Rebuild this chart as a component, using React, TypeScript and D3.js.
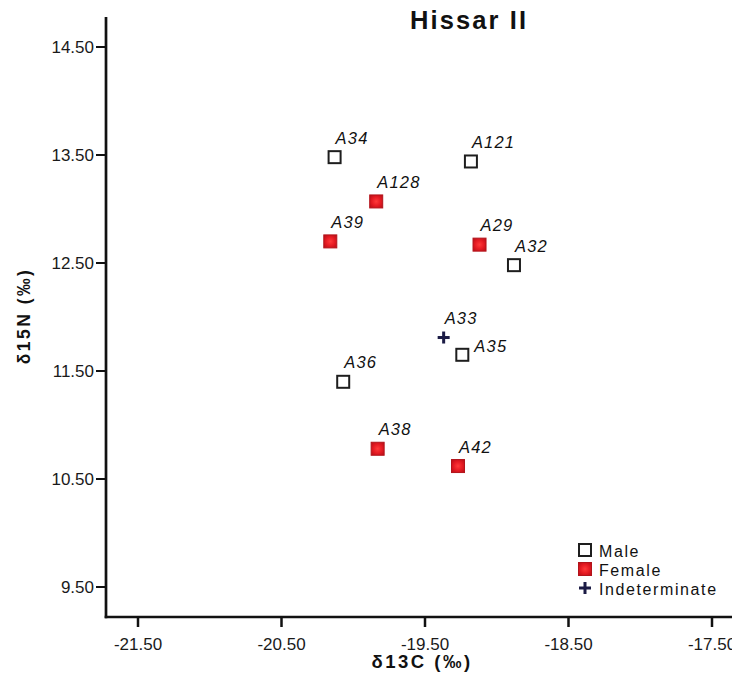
import React from "react";
import * as d3 from "d3";

const ids = ["A34", "A121", "A128", "A39", "A29", "A32", "A33", "A35", "A36", "A38", "A42"];
const d13C = [-20.13, -19.18, -19.84, -20.16, -19.12, -18.88, -19.37, -19.24, -20.07, -19.83, -19.27];
const d15N = [13.48, 13.44, 13.07, 12.70, 12.67, 12.48, 11.81, 11.65, 11.40, 10.78, 10.62];
const sex = ["Male", "Male", "Female", "Female", "Female", "Male", "Indeterminate", "Male", "Male", "Female", "Female"];
const labelSide = ["top", "top", "top", "top", "top", "top", "top", "right", "top", "top", "top"];
const xTicks = [-21.5, -20.5, -19.5, -18.5, -17.5];
const yTicks = [9.5, 10.5, 11.5, 12.5, 13.5, 14.5];
const legendItems = ["Male", "Female", "Indeterminate"];

const FONT = "'Liberation Sans', Arial, Helvetica, sans-serif";

function Marker({ kind, cx, cy }: { kind: string; cx: number; cy: number }) {
  if (kind === "Male") {
    return <rect x={cx - 6} y={cy - 6} width={12} height={12} fill="#fff" stroke="#1e1e1e" strokeWidth={2} />;
  }
  if (kind === "Female") {
    return (
      <rect x={cx - 6.5} y={cy - 6.5} width={13} height={13} fill="url(#fgrad)" stroke="#b3141b" strokeWidth={1} />
    );
  }
  return (
    <g fill="#1b1b45">
      <rect x={cx - 6} y={cy - 1.5} width={12} height={3} />
      <rect x={cx - 1.5} y={cy - 6} width={3} height={12} />
    </g>
  );
}

export default function App() {
  const W = 732, H = 681;
  const x = d3.scaleLinear().domain([-21.5, -17.5]).range([138, 712]);
  const y = d3.scaleLinear().domain([9.5, 14.5]).range([587, 47]);
  const axisX = 106, axisY = 617, axisTop = 17;

  const pts = ids.map((id, i) => ({ id, cx: x(d13C[i]), cy: y(d15N[i]), kind: sex[i], side: labelSide[i] }));

  return (
    <svg width={W} height={H} style={{ position: "absolute", left: 0, top: 0, background: "#fff" }} fontFamily={FONT}>
      <defs>
        <radialGradient id="fgrad" cx="50%" cy="50%" r="60%">
          <stop offset="0%" stopColor="#ff3a3a" />
          <stop offset="60%" stopColor="#e41a22" />
          <stop offset="100%" stopColor="#c0121a" />
        </radialGradient>
      </defs>
      <rect width={W} height={H} fill="#fff" />
      <text x={469} y={28.5} textAnchor="middle" fontSize={25.5} fontWeight="bold" letterSpacing={2.1} fill="#111">
        Hissar II
      </text>

      {/* axes */}
      <line x1={axisX} y1={axisTop} x2={axisX} y2={axisY + 1.3} stroke="#111" strokeWidth={2.7} />
      <line x1={axisX - 1.3} y1={axisY} x2={W} y2={axisY} stroke="#111" strokeWidth={2.7} />
      {yTicks.map((t) => (
        <g key={"y" + t}>
          <line x1={axisX - 10} x2={axisX} y1={y(t)} y2={y(t)} stroke="#111" strokeWidth={2} />
          <text x={axisX - 12} y={y(t) + 6} textAnchor="end" fontSize={17} fill="#1a1a1a">
            {t.toFixed(2)}
          </text>
        </g>
      ))}
      {xTicks.map((t) => (
        <g key={"x" + t}>
          <line x1={x(t)} x2={x(t)} y1={axisY} y2={axisY + 10} stroke="#111" strokeWidth={2.5} />
          <text x={x(t)} y={650} textAnchor="middle" fontSize={17} fill="#1a1a1a">
            {t.toFixed(2)}
          </text>
        </g>
      ))}
      <text x={422} y={668} textAnchor="middle" fontSize={18.5} fontWeight="bold" letterSpacing={2.5} fill="#111">
        δ13C (‰)
      </text>
      <text
        transform={`translate(30,316) rotate(-90)`}
        textAnchor="middle"
        fontSize={17.5}
        fontWeight="bold"
        letterSpacing={2.5}
        fill="#111"
      >
        δ15N (‰)
      </text>

      {/* points */}
      {pts.map((p) => (
        <g key={p.id}>
          <Marker kind={p.kind} cx={p.cx} cy={p.cy} />
          <text
            x={p.side === "right" ? p.cx + 12 : p.cx + 1}
            y={p.side === "right" ? p.cy - 3 : p.cy - 13.5}
            fontSize={16.5}
            fontStyle="italic"
            letterSpacing={1.2}
            fill="#111"
          >
            {p.id}
          </text>
        </g>
      ))}

      {/* legend */}
      {legendItems.map((k, i) => {
        const cy = 550 + i * 19;
        return (
          <g key={k}>
            <Marker kind={k} cx={585} cy={cy} />
            <text x={599} y={cy + 6.5} fontSize={16} letterSpacing={1.6} fill="#111">
              {k}
            </text>
          </g>
        );
      })}
    </svg>
  );
}
